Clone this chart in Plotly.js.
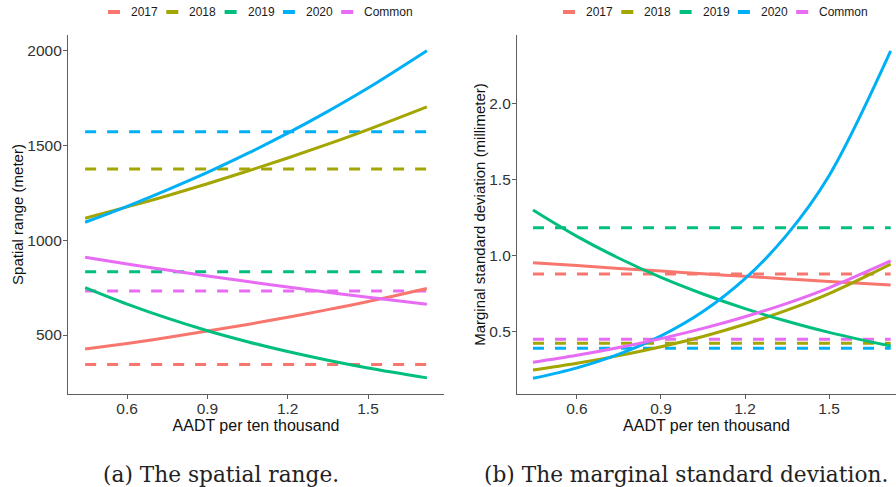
<!DOCTYPE html>
<html>
<head>
<meta charset="utf-8">
<script src="https://cdn.plot.ly/plotly-3.0.1.min.js"></script>
<style>
  html, body { margin: 0; padding: 0; background: #ffffff; }
  #chart { width: 896px; height: 487px; }
</style>
</head>
<body>
<div id="chart"></div>
<script>
// Group labels and the AADT grid (per ten thousand) on which the fitted curves are evaluated
const groups = ['2017', '2018', '2019', '2020', 'Common'];
const aadt = [0.443, 0.6, 0.75, 0.9, 1.05, 1.2, 1.35, 1.5, 1.72];
const aadtSpan = [0.443, 1.72];

// (a) Spatial range (meter): covariate-dependent fits
const range2017 = [426, 456, 487, 521, 556, 594, 634, 677, 746];
const range2018 = [1116, 1176, 1235, 1298, 1365, 1434, 1507, 1584, 1704];
const range2019 = [750, 663, 589, 523, 465, 413, 367, 326, 274];
const range2020 = [1095, 1179, 1266, 1358, 1458, 1565, 1680, 1803, 2000];
const rangeCommon = [910, 875, 843, 812, 782, 754, 726, 699, 662];
// constant (stationary) spatial range per group, same order as groups
const rangeConst = [345, 1376, 834, 1573, 732];

// (b) Marginal standard deviation (millimeter): covariate-dependent fits
const sd2017 = [0.953, 0.934, 0.915, 0.898, 0.880, 0.863, 0.846, 0.830, 0.806];
const sd2018 = [0.248, 0.292, 0.342, 0.400, 0.468, 0.548, 0.641, 0.750, 0.944];
const sd2019 = [1.299, 1.126, 0.982, 0.856, 0.747, 0.651, 0.568, 0.495, 0.405];
const sd2020 = [0.193, 0.262, 0.352, 0.472, 0.632, 0.848, 1.137, 1.524, 2.344];
const sdCommon = [0.298, 0.344, 0.395, 0.454, 0.521, 0.598, 0.686, 0.788, 0.964];
// constant marginal standard deviation per group
const sdConst = [0.878, 0.423, 1.183, 0.390, 0.449];

// Tick labels
const xTicks = [0.6, 0.9, 1.2, 1.5];
const xTickText = ['0.6', '0.9', '1.2', '1.5'];
const rangeTicks = [500, 1000, 1500, 2000];
const rangeTickText = ['500', '1000', '1500', '2000'];
const sdTicks = [0.5, 1.0, 1.5, 2.0];
const sdTickText = ['0.5', '1.0', '1.5', '2.0'];

const captionA = '(a) The spatial range.';
const captionB = '(b) The marginal standard deviation.';

// ---- styling ----
const W = 896, H = 487;
const palette = ['#F8766D', '#A3A500', '#00BF7D', '#00B0F6', '#E76BF3'];
const sans = 'Liberation Sans, Arial, Helvetica, sans-serif';
const serif = 'DejaVu Serif, serif';
const px = v => v / W;
const py = v => 1 - v / H;

const rangeCurves = [range2017, range2018, range2019, range2020, rangeCommon];
const sdCurves = [sd2017, sd2018, sd2019, sd2020, sdCommon];

const traces = [];
function addPanel(curves, consts, xa, ya) {
  groups.forEach((g, i) => {
    traces.push({
      x: aadtSpan, y: [consts[i], consts[i]],
      xaxis: xa, yaxis: ya, mode: 'lines', name: g + ' (constant)',
      line: { color: palette[i], width: 3, dash: '11px,11px' },
      showlegend: false, hoverinfo: 'skip'
    });
  });
  groups.forEach((g, i) => {
    traces.push({
      x: aadt, y: curves[i],
      xaxis: xa, yaxis: ya, mode: 'lines', name: g,
      line: { color: palette[i], width: 3, shape: 'spline', smoothing: 1 },
      showlegend: false
    });
  });
}
addPanel(rangeCurves, rangeConst, 'x', 'y');
addPanel(sdCurves, sdConst, 'x2', 'y2');

// Colour legend drawn above each panel
const shapes = [];
const annotations = [];
function addLegend(x0, yc) {
  const step = 58.3;
  groups.forEach((g, i) => {
    const kx = x0 + i * step;
    shapes.push({
      type: 'line', xref: 'paper', yref: 'paper',
      x0: px(kx), x1: px(kx + 12), y0: py(yc), y1: py(yc),
      line: { color: palette[i], width: 4 }
    });
    annotations.push({
      xref: 'paper', yref: 'paper', x: px(kx + 21), y: py(yc),
      xanchor: 'left', yanchor: 'middle', showarrow: false,
      text: g, font: { family: sans, size: 12, color: '#1a1a1a' }
    });
  });
}
addLegend(108, 12);
addLegend(563, 12);

annotations.push({
  xref: 'paper', yref: 'paper', x: px(221), y: py(474),
  xanchor: 'center', yanchor: 'middle', showarrow: false,
  text: captionA, font: { family: serif, size: 21.7, color: '#222222' }
});
annotations.push({
  xref: 'paper', yref: 'paper', x: px(686), y: py(474),
  xanchor: 'center', yanchor: 'middle', showarrow: false,
  text: captionB, font: { family: serif, size: 21.7, color: '#222222' }
});

const axisLine = '#5e5e5e';
function baseAxis() {
  return {
    showline: true, linecolor: axisLine, linewidth: 1.1,
    ticks: 'outside', ticklen: 4, tickwidth: 1, tickcolor: axisLine,
    showgrid: false, zeroline: false, fixedrange: true,
    tickfont: { family: sans, size: 15.5, color: '#333333' }
  };
}
const yDomain = [py(394), py(35)];
const xTitleFont = { family: sans, size: 16, color: '#111111' };
const yTitleFont = { family: sans, size: 15, color: '#111111' };

const layout = {
  width: W, height: H,
  margin: { l: 0, r: 0, t: 0, b: 0 },
  paper_bgcolor: '#ffffff', plot_bgcolor: '#ffffff',
  showlegend: false,
  xaxis: Object.assign(baseAxis(), {
    domain: [px(68), px(444)], range: [0.379, 1.784], anchor: 'y',
    tickvals: xTicks, ticktext: xTickText, ticklabelstandoff: -4,
    title: { text: 'AADT per ten thousand', standoff: 0, font: xTitleFont }
  }),
  yaxis: Object.assign(baseAxis(), {
    domain: yDomain, range: [189, 2083], anchor: 'x',
    tickvals: rangeTicks, ticktext: rangeTickText, ticklabelstandoff: -2,
    title: { text: 'Spatial range (meter)', standoff: 0, font: yTitleFont }
  }),
  xaxis2: Object.assign(baseAxis(), {
    domain: [px(517), 1], range: [0.386, 1.739], anchor: 'y2',
    tickvals: xTicks, ticktext: xTickText, ticklabelstandoff: -4,
    title: { text: 'AADT per ten thousand', standoff: 0, font: xTitleFont }
  }),
  yaxis2: Object.assign(baseAxis(), {
    domain: yDomain, range: [0.09, 2.449], anchor: 'x2',
    tickvals: sdTicks, ticktext: sdTickText, ticklabelstandoff: -2,
    title: { text: 'Marginal standard deviation (millimeter)', standoff: 0, font: yTitleFont }
  }),
  shapes: shapes,
  annotations: annotations
};

Plotly.newPlot('chart', traces, layout, { staticPlot: true, displayModeBar: false });
</script>
</body>
</html>
